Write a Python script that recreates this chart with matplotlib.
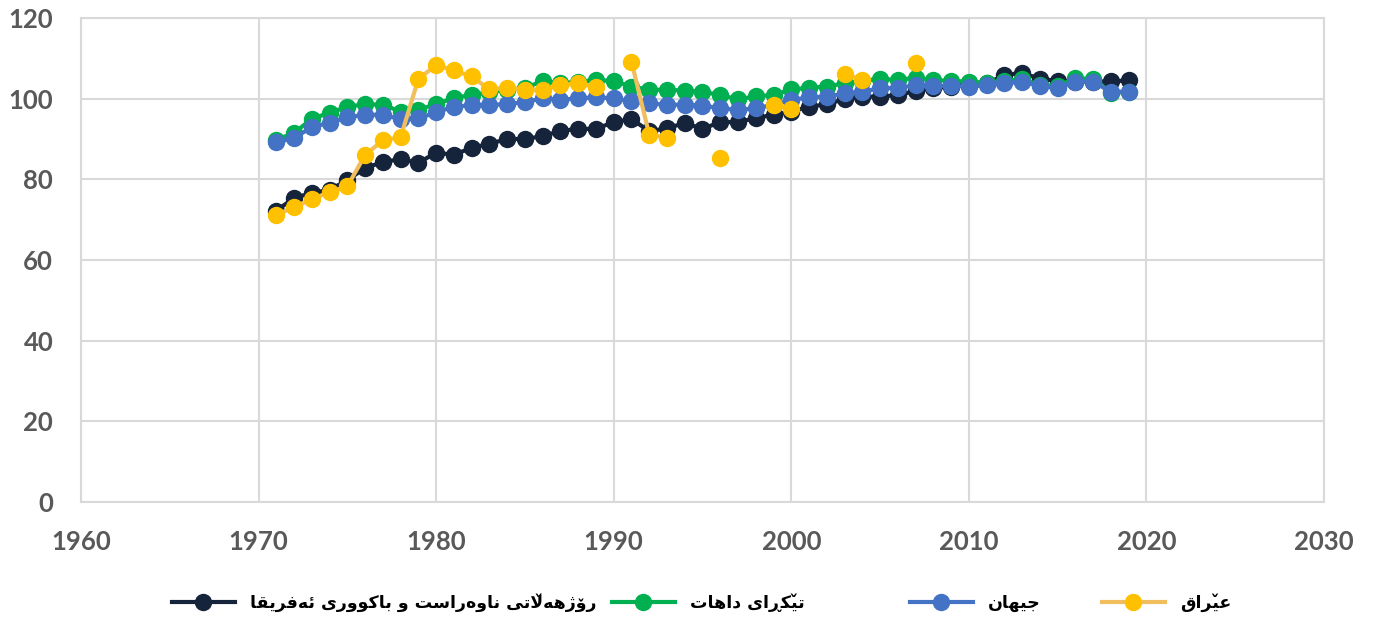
import numpy as np
import matplotlib
matplotlib.use("Agg")
import matplotlib.pyplot as plt
from matplotlib.font_manager import FontProperties

nan = np.nan
years = list(range(1971, 2020))

mena = [72.2, 75.4, 76.6, 77.4, 79.8, 82.8, 84.3, 85.0, 84.1, 86.6,
        86.1, 87.8, 88.8, 90.0, 90.0, 90.7, 92.0, 92.5, 92.5, 94.2,
        94.9, 92.0, 92.6, 94.0, 92.5, 94.2, 94.2, 95.2, 96.0, 96.8,
        98.0, 98.6, 99.9, 100.5, 100.5, 100.9, 101.9, 102.6, 103.0, 104.0,
        103.8, 105.8, 106.4, 104.9, 104.4, 104.2, 104.2, 104.3, 104.5]
income = [89.8, 91.5, 95.0, 96.5, 98.0, 98.6, 98.5, 96.8, 97.3, 98.6,
          100.2, 100.9, 101.6, 102.2, 102.6, 104.4, 103.8, 104.2, 104.6, 104.4,
          103.0, 102.2, 102.2, 102.0, 101.7, 100.9, 99.8, 100.6, 100.9, 102.3,
          102.7, 103.0, 103.8, 104.4, 104.9, 104.6, 105.2, 104.6, 104.4, 104.2,
          103.9, 104.4, 104.8, 103.4, 103.2, 105.0, 104.9, 101.5, 101.6]
world = [89.2, 90.2, 93.0, 94.0, 95.4, 96.0, 96.0, 94.9, 95.1, 96.6,
         98.0, 98.4, 98.4, 98.7, 99.1, 100.1, 99.7, 100.1, 100.3, 100.1,
         99.3, 98.8, 98.5, 98.5, 98.3, 97.6, 97.2, 97.6, 98.5, 99.7,
         100.3, 100.5, 101.3, 101.7, 102.6, 102.6, 103.4, 103.2, 103.2, 103.0,
         103.3, 103.8, 104.2, 103.1, 102.6, 104.2, 104.2, 101.7, 101.7]
iraq = [71.2, 73.1, 75.1, 76.8, 78.3, 86.0, 89.7, 90.4, 104.9, 108.3,
        107.0, 105.5, 102.3, 102.7, 102.2, 102.2, 103.3, 103.8, 102.8, nan,
        109.2, 91.1, 90.3, nan, nan, 85.2, nan, nan, 98.4, 97.4,
        nan, nan, 106.2, 104.6, nan, nan, 108.9, nan, nan, nan,
        nan, nan, nan, nan, nan, nan, nan, nan, nan]

labels = ["رۆژهەڵاتی ناوەراست و باکووری ئەفریقا", "تێکڕای داهات", "جیهان", "عێراق"]

# matplotlib does no arabic shaping, so pick the contextual forms by hand
# forms: isolated, final, initial, medial (None = right-joining letter)
FORMS = {
    'ا': ('\uFE8D', '\uFE8E', None, None),
    'ئ': ('\uFE89', '\uFE8A', '\uFE8B', '\uFE8C'),
    'ب': ('\uFE8F', '\uFE90', '\uFE91', '\uFE92'),
    'ت': ('\uFE95', '\uFE96', '\uFE97', '\uFE98'),
    'ج': ('\uFE9D', '\uFE9E', '\uFE9F', '\uFEA0'),
    'د': ('\uFEA9', '\uFEAA', None, None),
    'ر': ('\uFEAD', '\uFEAE', None, None),
    'ڕ': ('\u0695', '\u0695', None, None),
    'ژ': ('\uFB8A', '\uFB8B', None, None),
    'س': ('\uFEB1', '\uFEB2', '\uFEB3', '\uFEB4'),
    'ع': ('\uFEC9', '\uFECA', '\uFECB', '\uFECC'),
    'ف': ('\uFED1', '\uFED2', '\uFED3', '\uFED4'),
    'ق': ('\uFED5', '\uFED6', '\uFED7', '\uFED8'),
    'ک': ('\uFB8E', '\uFB8F', '\uFB90', '\uFB91'),
    'ل': ('\uFEDD', '\uFEDE', '\uFEDF', '\uFEE0'),
    'ڵ': ('\uFEDD', '\uFEDE', '\uFEDF', '\uFEE0'),
    'ن': ('\uFEE5', '\uFEE6', '\uFEE7', '\uFEE8'),
    'ه': ('\uFEE9', '\uFEEA', '\uFEEB', '\uFEEC'),
    'ە': ('\u06D5', '\uFEEA', None, None),
    'و': ('\uFEED', '\uFEEE', None, None),
    'ۆ': ('\uFBD9', '\uFBDA', None, None),
    'ی': ('\uFBFC', '\uFBFD', '\uFBFE', '\uFBFF'),
    'ێ': ('\uFBFC', '\uFBFD', '\uFBFE', '\uFBFF'),
}
VMARK = {'ڵ', 'ێ'}


def shape(s):
    out = []
    i = 0
    while i < len(s):
        c = s[i]
        prev = s[i - 1] if i > 0 else ' '
        jp = prev in FORMS and FORMS[prev][2] is not None and c in FORMS
        if c in ('ل', 'ڵ') and i + 1 < len(s) and s[i + 1] == 'ا':
            g = '\uFEFC' if jp else '\uFEFB'
            if c == 'ڵ':
                g += '\u030C'
            out.append(g)
            i += 2
            continue
        if c not in FORMS:
            out.append(c)
            i += 1
            continue
        nxt = s[i + 1] if i + 1 < len(s) else ' '
        jn = FORMS[c][2] is not None and nxt in FORMS
        iso, fin, ini, med = FORMS[c]
        if jp and jn:
            g = med
        elif jn:
            g = ini
        elif jp:
            g = fin
        else:
            g = iso
        if c in VMARK:
            g += '\u030C'
        out.append(g)
        i += 1
    return ''.join(out[::-1])


fig = plt.figure(figsize=(13.75, 6.26), dpi=100)
ax = fig.add_axes([0.0589, 0.198, 0.9040, 0.7733])

l1, = ax.plot(years, mena, color='#15233B', lw=3, marker='o', ms=11.5)
l2, = ax.plot(years, income, color='#00B050', lw=3, marker='o', ms=11.5)
l3, = ax.plot(years, world, color='#4472C4', lw=3, marker='o', ms=11.5)
l4, = ax.plot(years, iraq, color='#F0BE5E', lw=3, marker='o', ms=11.5,
              mfc='#FFC000', mec='#FFC000')

ax.set_xlim(1960, 2030)
ax.set_ylim(0, 120)
ax.set_xticks(range(1960, 2031, 10))
ax.set_yticks(range(0, 121, 20))
ax.grid(True, color='#D9D9D9', lw=1.5)
ax.set_axisbelow(True)
for s in ax.spines.values():
    s.set_color('#D9D9D9')
    s.set_linewidth(1.5)
ax.tick_params(length=0, colors='#595959')
ax.tick_params(axis='x', pad=20)
ax.tick_params(axis='y', pad=20)
for t in ax.get_xticklabels() + ax.get_yticklabels():
    t.set_fontfamily('Lato')
    t.set_fontweight('bold')
    t.set_fontsize(18.5)

# excel spaces the legend entries unevenly, so one legend per entry
lprop = FontProperties(family='DejaVu Sans', weight='bold', size=12.5)
lx = [172, 612, 910, 1102]
for h, lab, x in zip([l1, l2, l3, l4], labels, lx):
    lg = fig.legend([h], [shape(lab)], loc='center left',
                    bbox_to_anchor=(x / 1375, 1 - 603 / 626), frameon=False,
                    prop=lprop, handlelength=3.6, handletextpad=0.9,
                    borderpad=0, borderaxespad=0)

fig.savefig('out.png', dpi=100)
